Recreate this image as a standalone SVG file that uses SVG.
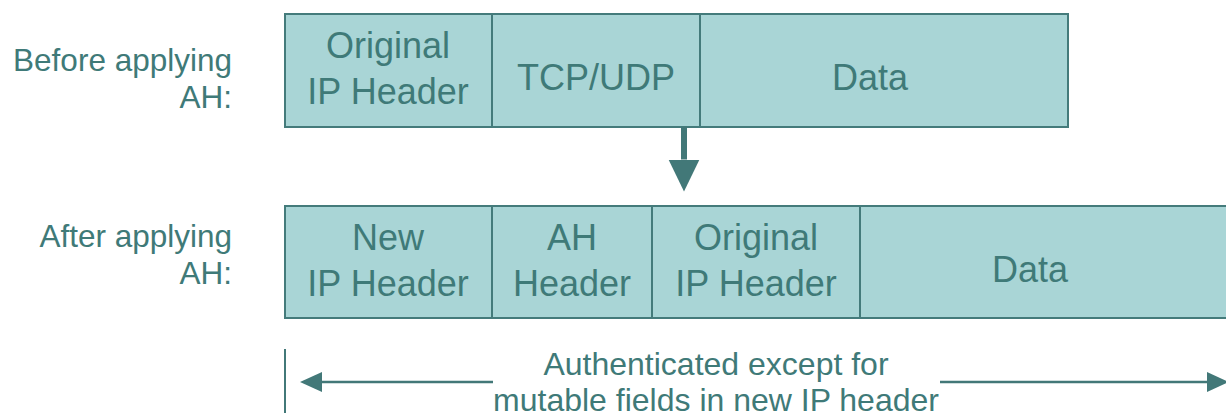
<svg xmlns="http://www.w3.org/2000/svg" width="1226" height="413" viewBox="0 0 1226 413">
  <style>
    .cell { fill: #a9d5d6; stroke: #447b7b; stroke-width: 2; }
    .div { stroke: #447b7b; stroke-width: 2; }
    .lbl { font-family: "Liberation Sans", Arial, sans-serif; font-size: 31.5px; fill: #3f7a78; text-anchor: end; }
    .box { font-family: "Liberation Sans", Arial, sans-serif; font-size: 36px; fill: #3f7a78; text-anchor: middle; }
    .note { font-family: "Liberation Sans", Arial, sans-serif; font-size: 32px; fill: #3f7a78; text-anchor: middle; }
    .conn { stroke: #427878; fill: none; }
  </style>
  <defs>
    <marker id="headSmall" markerUnits="userSpaceOnUse" markerWidth="24" markerHeight="22" refX="0" refY="10" orient="auto">
      <path d="M0,0 L22,10 L0,20 z" fill="#427878"/>
    </marker>
    <marker id="headBig" markerUnits="userSpaceOnUse" markerWidth="34" markerHeight="32" refX="0" refY="15.5" orient="auto">
      <path d="M0,0 L32,15.5 L0,31 z" fill="#427878"/>
    </marker>
  </defs>

  <rect width="1226" height="413" fill="#ffffff"/>

  <!-- row labels -->
  <g id="label-before">
    <text class="lbl" x="232" y="71">Before applying</text>
    <text class="lbl" x="232" y="107.5">AH:</text>
  </g>
  <g id="label-after">
    <text class="lbl" x="232" y="247">After applying</text>
    <text class="lbl" x="232" y="283.5">AH:</text>
  </g>

  <!-- packet before AH -->
  <g id="packet-before">
    <rect class="cell" x="285" y="14" width="783" height="113"/>
    <line class="div" x1="492" y1="14" x2="492" y2="127"/>
    <line class="div" x1="700" y1="14" x2="700" y2="127"/>
    <g id="before-ip-header">
      <text class="box" x="388" y="58">Original</text>
      <text class="box" x="388" y="104">IP Header</text>
    </g>
    <g id="before-tcp-udp">
      <text class="box" x="596" y="90">TCP/UDP</text>
    </g>
    <g id="before-data">
      <text class="box" x="870" y="90">Data</text>
    </g>
  </g>

  <!-- packet after AH -->
  <g id="packet-after">
    <rect class="cell" x="285" y="206" width="960" height="112"/>
    <line class="div" x1="492" y1="206" x2="492" y2="318"/>
    <line class="div" x1="652" y1="206" x2="652" y2="318"/>
    <line class="div" x1="860" y1="206" x2="860" y2="318"/>
    <g id="after-new-ip-header">
      <text class="box" x="388" y="250">New</text>
      <text class="box" x="388" y="296">IP Header</text>
    </g>
    <g id="after-ah-header">
      <text class="box" x="572" y="250">AH</text>
      <text class="box" x="572" y="296">Header</text>
    </g>
    <g id="after-orig-ip-header">
      <text class="box" x="756" y="250">Original</text>
      <text class="box" x="756" y="296">IP Header</text>
    </g>
    <g id="after-data">
      <text class="box" x="1030" y="282">Data</text>
    </g>
  </g>

  <!-- authenticated span note -->
  <g id="auth-note">
    <text class="note" x="716" y="375">Authenticated except for</text>
    <text class="note" x="716" y="411">mutable fields in new IP header</text>
  </g>

  <!-- connectors -->
  <g id="connectors">
    <line class="conn" x1="684" y1="127" x2="684" y2="159.5" stroke-width="6" marker-end="url(#headBig)"/>
    <line class="conn" x1="285" y1="349" x2="285" y2="413" stroke-width="2"/>
    <line class="conn" x1="493" y1="382" x2="322" y2="382" stroke-width="2.5" marker-end="url(#headSmall)"/>
    <line class="conn" x1="940" y1="382" x2="1207" y2="382" stroke-width="2.5" marker-end="url(#headSmall)"/>
  </g>
</svg>
